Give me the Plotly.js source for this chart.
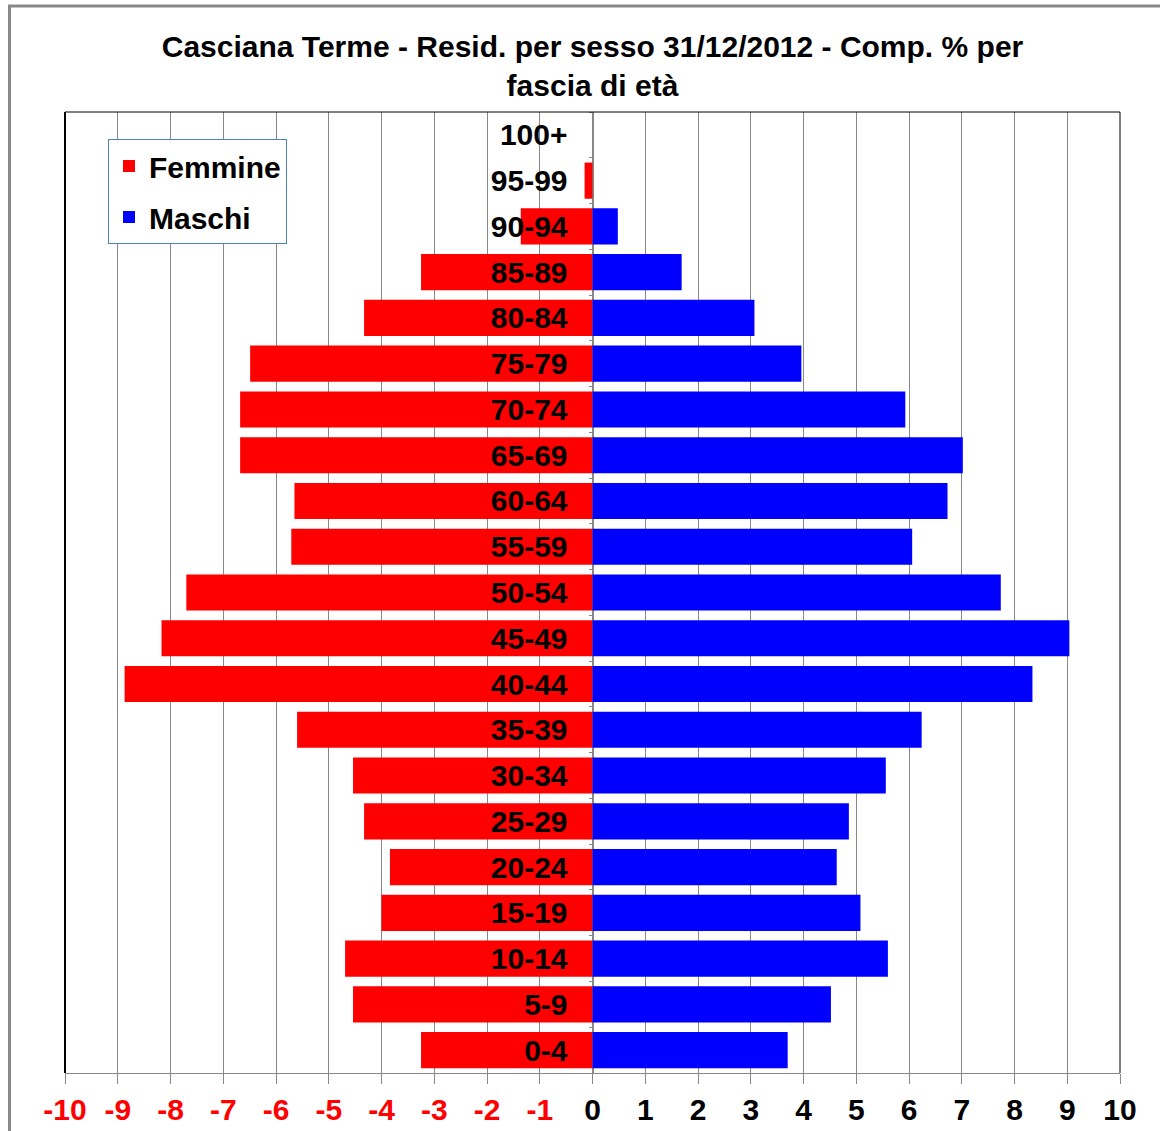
<!DOCTYPE html>
<html>
<head>
<meta charset="utf-8">
<script src="https://cdn.plot.ly/plotly-3.0.1.min.js"></script>
<style>
  html, body { margin: 0; padding: 0; background: #ffffff; }
  #chart { width: 1160px; height: 1131px; }
</style>
</head>
<body>
<div id="chart"></div>
<script>
// Age classes (bottom to top)
var categories = ['0-4','5-9','10-14','15-19','20-24','25-29','30-34','35-39','40-44','45-49',
                  '50-54','55-59','60-64','65-69','70-74','75-79','80-84','85-89','90-94','95-99','100+'];
// Percentage composition, females (shown to the left)
var femmine = [3.25, 4.54, 4.69, 4.00, 3.84, 4.33, 4.54, 5.60, 8.87, 8.17,
               7.70, 5.71, 5.65, 6.68, 6.68, 6.49, 4.33, 3.25, 1.36, 0.15, 0];
// Percentage composition, males (shown to the right)
var maschi  = [3.70, 4.52, 5.60, 5.08, 4.63, 4.86, 5.56, 6.24, 8.34, 9.04,
               7.74, 6.06, 6.73, 7.02, 5.93, 3.96, 3.07, 1.69, 0.48, 0, 0];
// X tick values and labels
var xTickVals = [-10,-9,-8,-7,-6,-5,-4,-3,-2,-1,0,1,2,3,4,5,6,7,8,9,10];
var xTickLabels = ['-10','-9','-8','-7','-6','-5','-4','-3','-2','-1','0','1','2','3','4','5','6','7','8','9','10'];

var titleText = 'Casciana Terme - Resid. per sesso 31/12/2012 - Comp. % per<br>fascia di età';

var W = 1160, H = 1131;
var M = {l: 65, r: 40, t: 112, b: 58};
var pw = W - M.l - M.r, ph = H - M.t - M.b;
function px2x(p) { return (p - M.l) / pw; }
function py2y(p) { return (H - M.b - p) / ph; }

var tickText = xTickLabels.map(function (t, i) {
  return xTickVals[i] < 0 ? '<span style="color:#ff0000">' + t + '</span>' : t;
});

var font = 'Liberation Sans, Arial, sans-serif';
var FS = 30;

var traces = [
  {
    type: 'bar', orientation: 'h', name: 'Femmine',
    y: categories, x: femmine.map(function (v) { return -v; }),
    marker: {color: '#ff0000', line: {width: 0}},
    legendgroup: 'f', hoverinfo: 'skip'
  },
  {
    type: 'bar', orientation: 'h', name: 'Maschi',
    y: categories, x: maschi,
    marker: {color: '#0000ff', line: {width: 0}},
    legendgroup: 'm', hoverinfo: 'skip'
  }
];

var layout = {
  width: W, height: H,
  margin: M,
  paper_bgcolor: '#ffffff',
  plot_bgcolor: '#ffffff',
  barmode: 'relative',
  bargap: 0.21,
  font: {family: font, size: FS, color: '#000000', weight: 'bold'},
  title: {
    text: titleText,
    font: {family: font, size: FS, color: '#000000', weight: 'bold'},
    x: 0.5, xref: 'paper', xanchor: 'center',
    y: 1 - 57 / H, yref: 'container', yanchor: 'top'
  },
  showlegend: true,
  legend: {
    x: px2x(108), y: py2y(139), xanchor: 'left', yanchor: 'top',
    bgcolor: '#ffffff', bordercolor: '#4f81bd', borderwidth: 1,
    traceorder: 'grouped', tracegroupgap: 9,
    itemwidth: 30,
    font: {family: font, size: FS, color: '#000000', weight: 'bold'}
  },
  xaxis: {
    range: [-10, 10],
    tickmode: 'array', tickvals: xTickVals, ticktext: tickText,
    showgrid: true, gridcolor: '#888888', gridwidth: 1,
    zeroline: true, zerolinecolor: '#888888', zerolinewidth: 2,
    showline: true, linecolor: '#888888', linewidth: 1,
    ticks: 'outside', ticklen: 10, tickcolor: '#888888', tickwidth: 1,
    tickfont: {family: font, size: FS, color: '#000000', weight: 'bold'},
    fixedrange: true
  },
  yaxis: {
    type: 'category',
    anchor: 'free', position: 0.5,
    showgrid: false, zeroline: false, showline: false,
    ticks: 'outside', ticklen: 4, tickcolor: '#888888', tickwidth: 1,
    tickson: 'boundaries',
    ticklabelstandoff: 25,
    tickfont: {family: font, size: FS, color: '#000000', weight: 'bold'},
    fixedrange: true
  },
  shapes: [
    // outer chart frame (only top and left are inside the picture)
    {type: 'rect', xref: 'paper', yref: 'paper',
     x0: px2x(9.5), x1: px2x(1200), y0: py2y(1180), y1: py2y(6),
     line: {color: '#888888', width: 3}, fillcolor: 'rgba(0,0,0,0)', layer: 'above'},
    // plot area border: left, top, right
    {type: 'line', xref: 'paper', yref: 'paper', x0: 0, x1: 0, y0: 0, y1: 1,
     line: {color: '#000000', width: 2}, layer: 'above'},
    {type: 'line', xref: 'paper', yref: 'paper', x0: 0, x1: 1, y0: 1, y1: 1,
     line: {color: '#000000', width: 1}, layer: 'above'},
    {type: 'line', xref: 'paper', yref: 'paper', x0: 1, x1: 1, y0: 0, y1: 1,
     line: {color: '#000000', width: 1}, layer: 'above'}
  ]
};

Plotly.newPlot('chart', traces, layout, {displayModeBar: false, staticPlot: true});
</script>
</body>
</html>
